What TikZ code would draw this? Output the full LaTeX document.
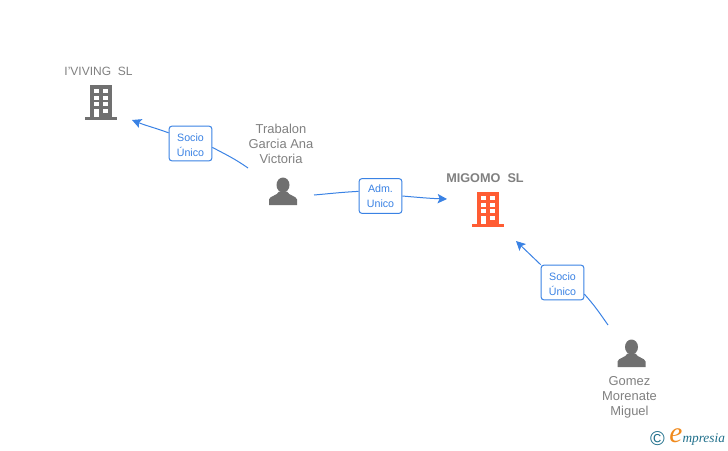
\documentclass[tikz,border=0pt]{standalone}
\usepackage{fontspec}
\setmainfont{Liberation Sans}
\newfontfamily\logofont{Liberation Serif}
\usetikzlibrary{positioning, arrows.meta}
\definecolor{linkblue}{HTML}{3A82E4}
\definecolor{icongray}{HTML}{707070}
\definecolor{textgray}{HTML}{808080}
\definecolor{mainorange}{HTML}{FF5C33}
\definecolor{logoteal}{HTML}{1F6F8B}
\definecolor{logoorange}{HTML}{F08A1D}
\tikzset{
	pics/buildingicon/.style={code={
		\fill[#1] (-11,-17) rectangle (11,15);
		\fill[#1] (-16,14.5) rectangle (16,17.5);
		\foreach \y in {-12.7,-6,0}
		{
			\fill[white] (-7,\y) rectangle (-2.5,\y+4);
			\fill[white] (2.3,\y) rectangle (7,\y+4);
		}
		\fill[white] (-7,6.7) rectangle (-2.5,15);
		\fill[white] (2.3,6.7) rectangle (7,11.3);
	}},
	pics/personicon/.style={code={
		\fill[icongray] (0,-6.5) ellipse (6.5 and 7.5);
		\fill[icongray] (-14,13.5) -- (-14,8) .. controls (-13,4) and (-6,4.5) .. (-4,0) -- (4,0) .. controls (6,4.5) and (13,4) .. (14,8) -- (14,13.5) -- cycle;
	}}
}
\begin{document}
\begin{tikzpicture}[x=0.75pt, y=-0.75pt, node distance=3pt, line width=0.75pt]
	\tikzstyle{iconbox} = [minimum width = 24pt, minimum height = 26pt, inner sep = 0pt];
	\tikzstyle{entity} = [text = textgray, font = \fontsize{9.7}{11.25}\selectfont, align = center, inner sep = 0pt];
	\tikzstyle{rolebox} = [draw = linkblue, fill = white, rounded corners = 2pt, text = linkblue, font = \fontsize{8}{11.25}\selectfont, align = center, minimum width = 32pt, minimum height = 26pt, inner sep = 0pt];
	\tikzstyle{linkline} = [draw = linkblue, line width=0.75pt];
	\tikzstyle{linkto} = [linkline, -{Stealth[length=7pt, width=7pt, inset=1.5pt]}];
	
	\useasboundingbox (0,0) rectangle (728,450);
	
	\node[iconbox] (iviving) at (101,102) {};
	\node[iconbox] (migomo) at (488,209) {};
	\node[iconbox] (trabalon) at (283,191.5) {};
	\node[iconbox] (gomez) at (631.5,353.5) {};
	
	\pic at (iviving) {buildingicon=icongray};
	\pic at (migomo) {buildingicon=mainorange};
	\pic at (trabalon) {personicon};
	\pic at (gomez) {personicon};
	
	\node[entity, font = \fontsize{9}{11.25}\selectfont] (ivivingname) at (98.5,71) {I'VIVING\ \ SL};
	\node[entity, font = \fontsize{9.5}{11.25}\selectfont\bfseries] (migomoname) at (485,178) {MIGOMO\ \ SL};
	\node[entity, above = 7pt of trabalon, xshift = -1.5pt] (trabalonname) {Trabalon\\Garcia Ana\\Victoria};
	\node[entity, below = 3.7pt of gomez, xshift = -1.5pt] (gomezname) {Gomez\\Morenate\\Miguel};
	
	\node[rolebox] (socio1) at (190.5,143.5) {\rule{0pt}{8.5pt}Socio\\Único};
	\node[rolebox] (adm) at (380.5,196) {Adm.\\Unico};
	\node[rolebox] (socio2) at (562.5,282.5) {\rule{0pt}{8.5pt}Socio\\Único};
	
	\coordinate (t1) at (248,168);
	\coordinate (h1) at (132,120);
	\coordinate (t2) at (314,195);
	\coordinate (h2) at (447,199);
	\coordinate (t3) at (608,325);
	\coordinate (h3) at (516,241);
	
	\draw[linkline] (t1) to [out=145,in=-28] (socio1.-10);
	\draw[linkto] (socio1.154) to [out=160,in=-22] (h1);
	\draw[linkline] (t2) to [out=5,in=183] (adm.168);
	\draw[linkto] (adm.east) to [out=-5,in=178] (h2);
	\draw[linkline] (t3) to [out=125,in=-48] (socio2.-28);
	\draw[linkto] (socio2.north west) to (h3);
	
	\node[text = logoteal, font = \fontsize{15}{16}\selectfont, inner sep = 0pt] (copyr) at (657.5,438.5) {©};
	\node[text = logoorange, font = \logofont\itshape\fontsize{22}{24}\selectfont, inner sep = 0pt] (logoe) at (676,436) {e};
	\node[text = logoteal, font = \logofont\itshape\fontsize{10}{12}\selectfont, inner sep = 0pt, anchor = west] (logotext) at (682,439) {mpresia};
\end{tikzpicture}
\end{document}
